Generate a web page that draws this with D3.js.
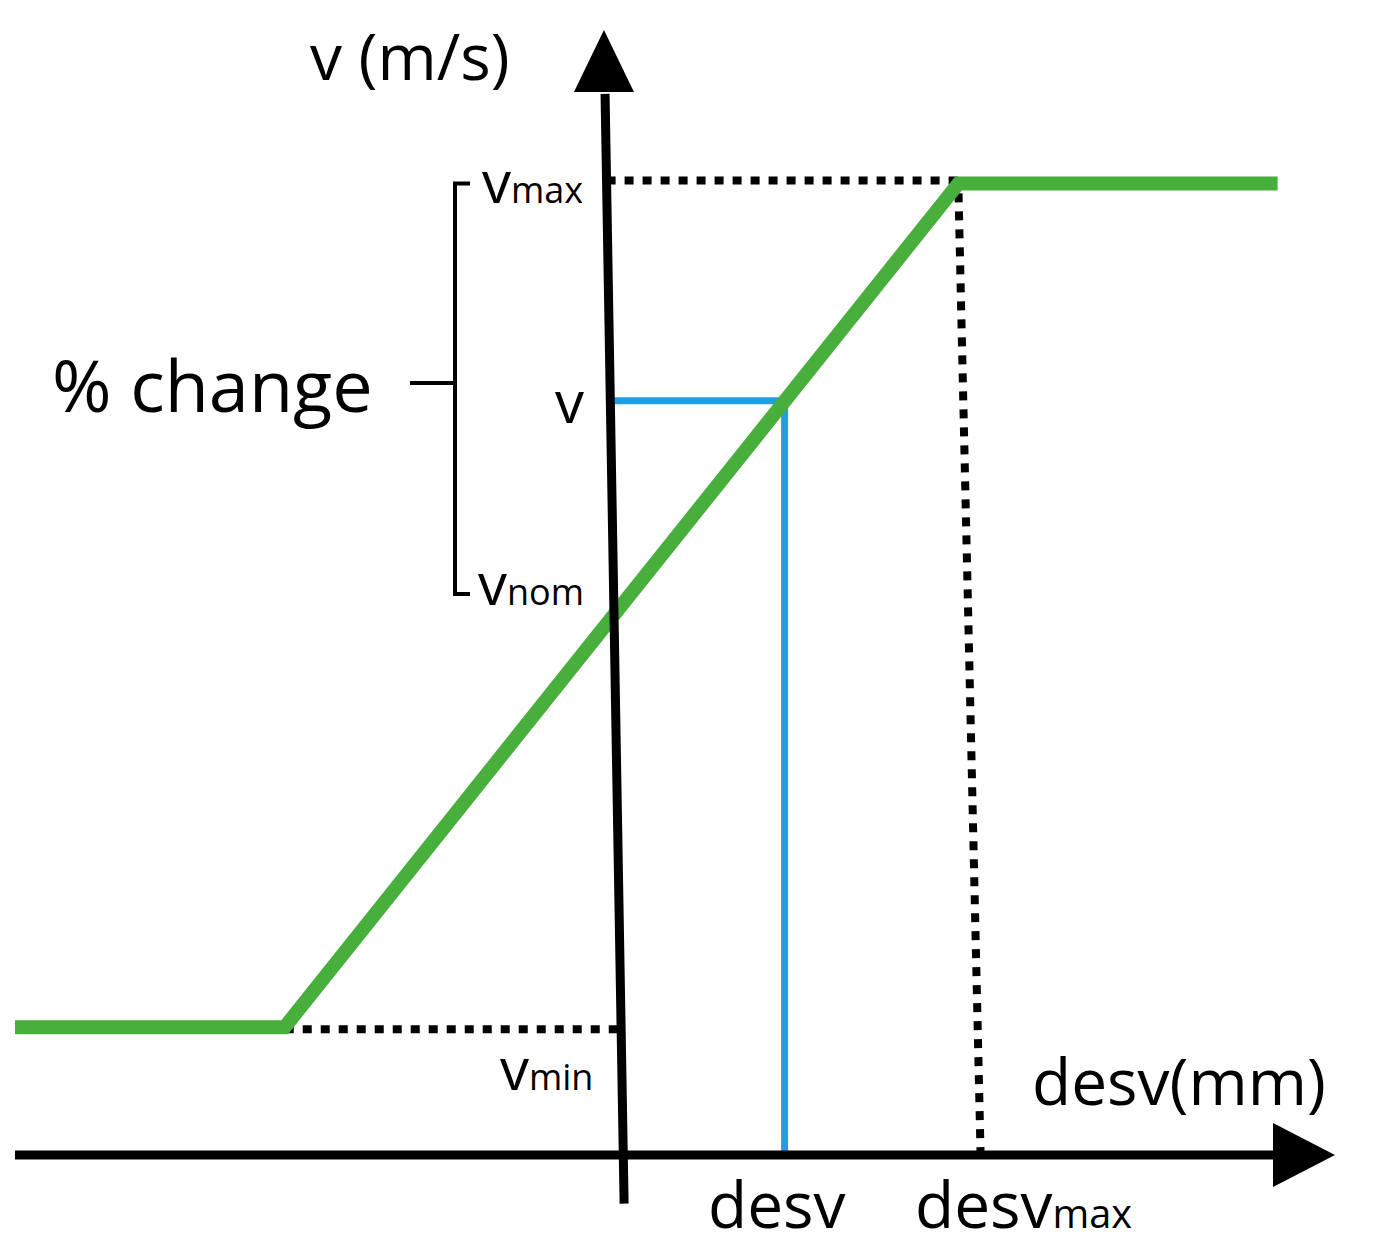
<!DOCTYPE html>
<html>
<head>
<meta charset="utf-8">
<script src="https://cdn.jsdelivr.net/npm/d3@7"></script>
<style>
  body { margin: 0; background: #fff; }
  text { font-family: "Open Sans", "Noto Sans", sans-serif; fill: #000; }
</style>
</head>
<body>
<div id="chart"></div>
<script>
// schematic values (abstract units)
const curveX = [-5.3, -2.95, 2.92, 5.7];
const curveV = [1.0, 1.0, 7.6, 7.6];
const vMin = 1.0, vMax = 7.6, vNom = 4.45, vSel = 5.9;
const desvSel = 1.37, desvMax = 2.92;
const labelsY = ["max", "nom", "min"];

const W = 1394, H = 1255;
const svg = d3.select("#chart").append("svg").attr("width", W).attr("height", H);

const x = d3.scaleLinear().domain([-5.3, 6.2]).range([15, 1335]);
const y = d3.scaleLinear().domain([0, 8.8]).range([1155, 30]);

// y axis is drawn slightly tilted in the original
const tilt = v => (y(v) - 1155) * (20 / 1160);
const ax = v => x(0) + tilt(v);

// dotted guides
const dots = svg.append("g").attr("stroke", "#000").attr("stroke-width", 8)
  .attr("stroke-dasharray", "9,9").attr("fill", "none");
dots.append("line").attr("x1", ax(vMax)).attr("x2", x(desvMax)).attr("y1", y(vMax) - 3).attr("y2", y(vMax) - 3);
dots.append("line").attr("x1", x(desvMax)).attr("x2", x(desvMax) + 22).attr("y1", y(vMax) + 10).attr("y2", y(0) - 4);
dots.append("line").attr("x1", x(-2.95)).attr("x2", ax(vMin)).attr("y1", y(vMin) + 2).attr("y2", y(vMin) + 2);

// blue selection
const blue = "#1e9fde";
svg.append("path")
  .attr("d", `M${ax(vSel) + 4},${y(vSel)} H${x(desvSel) + 4} V${y(0)}`)
  .attr("stroke", blue).attr("stroke-width", 7).attr("fill", "none");

// green curve
svg.append("path")
  .datum(d3.zip(curveX, curveV))
  .attr("d", d3.line().x(d => x(d[0])).y(d => y(d[1])))
  .attr("stroke", "#48ae3c").attr("stroke-width", 14).attr("fill", "none");

// axes
svg.append("line").attr("x1", x(-5.3)).attr("x2", x(6.2) - 50).attr("y1", y(0)).attr("y2", y(0))
  .attr("stroke", "#000").attr("stroke-width", 9);
svg.append("path").attr("d", `M${x(6.2)},${y(0)} L${x(6.2) - 62},${y(0) - 32} L${x(6.2) - 62},${y(0) + 32} Z`);
svg.append("line").attr("x1", ax(-0.35)).attr("x2", ax(8.3)).attr("y1", y(-0.38)).attr("y2", y(8.3))
  .attr("stroke", "#000").attr("stroke-width", 9);
svg.append("path").attr("d", `M${ax(8.8)},${y(8.8)} L${ax(8.8) - 30},${y(8.8) + 62} L${ax(8.8) + 30},${y(8.8) + 62} Z`);

// text labels
function sub(tx, ty, main, s, fs) {
  const t = svg.append("text").attr("x", tx).attr("y", ty).attr("font-size", fs);
  t.append("tspan").text(main);
  if (s) t.append("tspan").attr("font-size", fs * 0.62).text(s);
}
svg.append("text").attr("x", 310).attr("y", 80).attr("font-size", 64).text("v (m/s)");
sub(482, y(vMax) + 20, "v", labelsY[0], 58);
sub(555, y(vSel) + 22, "v", null, 58);
sub(478, y(vNom) + 19, "v", labelsY[1], 58);
sub(500, 1090, "v", labelsY[2], 58);
svg.append("text").attr("x", 1032).attr("y", 1105).attr("font-size", 64).text("desv(mm)");
sub(708, 1228, "desv", null, 64);
sub(915, 1228, "desv", labelsY[0], 64);
svg.append("text").attr("x", 52).attr("y", 412).attr("font-size", 72).text("% change");

// brace
svg.append("path")
  .attr("d", `M470,${y(vMax)} H455 V${383} L450,383 L455,383 V${y(vNom) + 8} H470 M410,383 H452`)
  .attr("stroke", "#000").attr("stroke-width", 4).attr("fill", "none");
</script>
</body>
</html>
